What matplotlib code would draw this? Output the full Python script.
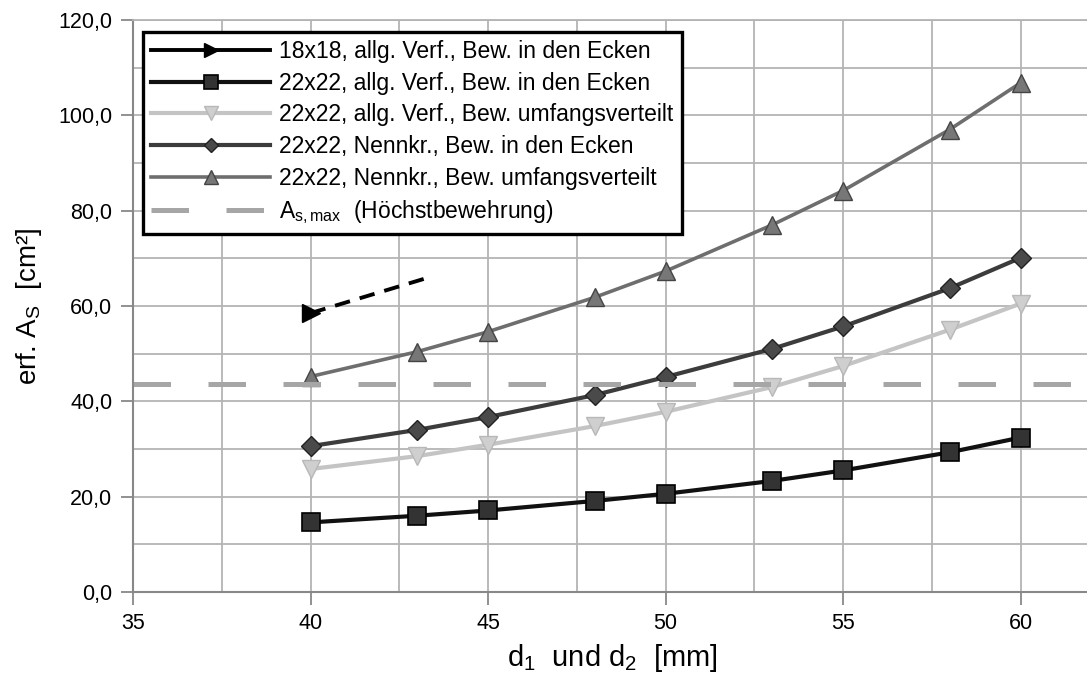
import matplotlib

matplotlib.use("Agg")
import matplotlib.pyplot as plt
from matplotlib.ticker import FuncFormatter, MultipleLocator

plt.rcParams["font.family"] = ["Liberation Sans", "DejaVu Sans"]
plt.rcParams["mathtext.fontset"] = "custom"
plt.rcParams["mathtext.rm"] = "Liberation Sans"
plt.rcParams["mathtext.it"] = "Liberation Sans:italic"

# data
d_values = [40, 43, 45, 48, 50, 53, 55, 58, 60]
as_allg_ecken = [14.6, 16.0, 17.1, 19.1, 20.6, 23.3, 25.5, 29.3, 32.4]
as_allg_umfang = [25.8, 28.5, 30.9, 34.8, 37.8, 43.0, 47.4, 55.0, 60.5]
as_nenn_ecken = [30.6, 34.0, 36.7, 41.3, 45.1, 51.0, 55.7, 63.7, 70.1]
as_nenn_umfang = [45.2, 50.4, 54.6, 61.8, 67.3, 77.0, 84.2, 97.0, 106.8]
d_18 = [40]
as_18 = [58.5]
trend_18_x = [40, 43.2]
trend_18_y = [58.5, 65.7]
as_max = 43.7

fig = plt.figure(figsize=(10.87, 6.8), dpi=100)
ax = fig.add_axes([133 / 1087, 88 / 680, (1091.5 - 133) / 1087, 572 / 680])

l18, = ax.plot(d_18, as_18, color="black", lw=2.8, marker=">", ms=13,
               mfc="black", mec="black", label="18x18, allg. Verf., Bew. in den Ecken")
ax.plot(trend_18_x, trend_18_y, color="black", lw=2.8, dashes=(4, 2.6))
l1, = ax.plot(d_values, as_allg_ecken, color="#111111", lw=3.0, marker="s", ms=13,
              mfc="#333333", mec="#000000", mew=1.2, label="22x22, allg. Verf., Bew. in den Ecken")
l2, = ax.plot(d_values, as_allg_umfang, color="#c4c4c4", lw=3.0, marker="v", ms=13,
              mfc="#cfcfcf", mec="#b8b8b8", mew=1.0, label="22x22, allg. Verf., Bew. umfangsverteilt")
l3, = ax.plot(d_values, as_nenn_ecken, color="#3c3c3c", lw=3.0, marker="D", ms=10,
              mfc="#4a4a4a", mec="#222222", mew=1.0, label="22x22, Nennkr., Bew. in den Ecken")
l4, = ax.plot(d_values, as_nenn_umfang, color="#6e6e6e", lw=2.6, marker="^", ms=13,
              mfc="#777777", mec="#444444", mew=1.0, label="22x22, Nennkr., Bew. umfangsverteilt")
lmax = ax.axhline(as_max, color="#a6a6a6", lw=3.6, dashes=(7.5, 7.5),
                  label=r"A$_\mathrm{s,max}$  (Höchstbewehrung)")

ax.set_xlim(35, 62)
ax.set_ylim(0, 120)
ax.xaxis.set_major_locator(MultipleLocator(5))
ax.xaxis.set_minor_locator(MultipleLocator(2.5))
ax.yaxis.set_major_locator(MultipleLocator(20))
ax.yaxis.set_minor_locator(MultipleLocator(10))
ax.yaxis.set_major_formatter(FuncFormatter(lambda v, _: f"{v:.1f}".replace(".", ",")))
ax.grid(which="both", color="#b4b4b4", lw=1.3)
ax.set_axisbelow(True)
ax.tick_params(which="major", direction="out", length=9, width=1.3, color="#888888",
               labelsize=15.5, pad=6)
ax.tick_params(which="minor", length=0)
for side in ["left", "bottom"]:
    ax.spines[side].set_color("#888888")
    ax.spines[side].set_linewidth(1.5)
ax.spines["top"].set_color("#b4b4b4")
ax.spines["top"].set_linewidth(1.3)
ax.spines["right"].set_visible(False)

ax.set_xlabel(r"d$_\mathrm{1}$  und d$_\mathrm{2}$  [mm]", fontsize=21, labelpad=6)
ax.set_ylabel(r"erf. A$_\mathrm{S}$  [cm²]", fontsize=20, labelpad=10)

leg = ax.legend(handles=[l18, l1, l2, l3, l4, lmax], loc="upper left",
                bbox_to_anchor=(10 / 958.5, 1 - 12 / 572), borderaxespad=0,
                fontsize=16.5, numpoints=1, markerscale=0.75,
                handlelength=5.2, handletextpad=0.4, labelspacing=0.38,
                borderpad=0.35, fancybox=False, framealpha=1, edgecolor="black")
leg.get_frame().set_linewidth(2.4)

fig.savefig("out.png", dpi=100)
